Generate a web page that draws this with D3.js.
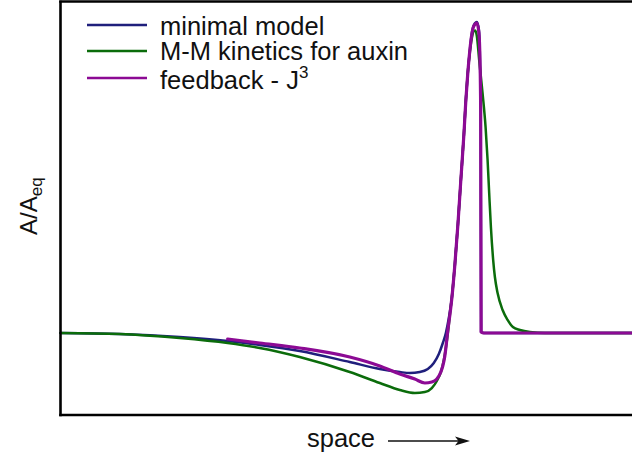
<!DOCTYPE html>
<html>
<head>
<meta charset="utf-8">
<script src="https://cdn.jsdelivr.net/npm/d3@7"></script>
<style>
  html, body { margin: 0; padding: 0; background: #fff; }
  svg { display: block; font-family: "Liberation Sans", Arial, Helvetica, sans-serif; }
</style>
</head>
<body>
<svg id="chart" width="632" height="459"></svg>
<script>
// ---- data (space in arbitrary units 0..100, A/Aeq) ----
const seriesNames = ["minimal model", "M-M kinetics for auxin", "feedback - J"];

const minimalX = [0, 10.33, 20.84, 29.25, 34.85, 41.86, 50.61, 55.87, 59.37, 61.12, 62.87, 64.27, 65.32, 66.20, 66.90, 67.43, 67.95, 68.48, 69.00, 69.53, 70.05, 70.58, 70.93, 71.28, 71.63, 71.98, 72.33, 72.86, 73.21, 73.40, 73.52, 73.60, 74.08, 100];
const minimalY = [1.000, 0.988, 0.951, 0.902, 0.854, 0.780, 0.646, 0.561, 0.524, 0.512, 0.524, 0.561, 0.634, 0.744, 0.878, 1.000, 1.183, 1.427, 1.829, 2.317, 2.866, 3.415, 3.841, 4.183, 4.451, 4.659, 4.756, 4.793, 4.700, 4.329, 3.720, 1.012, 1.000, 1.000];

const mmX = [0, 10.33, 20.84, 29.25, 34.85, 41.86, 50.61, 55.87, 59.37, 62.00, 63.75, 64.97, 65.85, 66.55, 67.08, 67.43, 67.78, 68.13, 68.48, 69.00, 69.53, 70.05, 70.58, 70.93, 71.28, 71.63, 71.98, 72.33, 72.59, 72.85, 73.26, 73.85, 74.38, 74.73, 75.01, 75.31, 75.71, 76.01, 76.48, 77.36, 78.23, 79.16, 80.39, 82.14, 84.76, 100];
const mmY = [1.000, 0.988, 0.939, 0.878, 0.817, 0.707, 0.524, 0.390, 0.305, 0.268, 0.280, 0.329, 0.415, 0.524, 0.671, 0.817, 1.000, 1.220, 1.439, 1.829, 2.317, 2.866, 3.415, 3.841, 4.183, 4.427, 4.598, 4.683, 4.689, 4.622, 4.329, 3.927, 3.512, 3.110, 2.707, 2.293, 1.890, 1.683, 1.488, 1.280, 1.159, 1.073, 1.037, 1.012, 1.000, 1.000];

const feedbackX = [29.25, 34.85, 41.86, 50.61, 55.87, 59.37, 62.00, 63.75, 64.97, 65.85, 66.55, 66.90, 67.25, 67.78, 68.13, 68.48, 69.00, 69.53, 70.05, 70.58, 70.93, 71.28, 71.63, 71.98, 72.33, 72.86, 73.21, 73.40, 73.52, 73.60, 74.08, 100];
const feedbackY = [0.927, 0.878, 0.817, 0.707, 0.598, 0.500, 0.439, 0.390, 0.402, 0.439, 0.524, 0.598, 0.720, 1.037, 1.220, 1.427, 1.829, 2.317, 2.866, 3.415, 3.841, 4.183, 4.451, 4.646, 4.744, 4.780, 4.660, 4.329, 3.720, 1.012, 1.000, 1.000];

const xDomain = [0, 100];
const yDomain = [0, 5.037];
const colors = ["#1f1f7c", "#0b6c0b", "#8c0a94"];
const widths = [2.5, 2.5, 3.2];

// ---- layout ----
const svg = d3.select("#chart");
const padL = 60.5, padR = 640, padT = 2, padB = 415;

const x = d3.scaleLinear().domain(xDomain).range([padL, 632]);
const y = d3.scaleLinear().domain(yDomain).range([padB, padT]);

const line = d3.line()
  .x(d => x(d[0]))
  .y(d => y(d[1]))
  .curve(d3.curveMonotoneX);

const series = [
  { xs: minimalX, ys: minimalY },
  { xs: mmX, ys: mmY },
  { xs: feedbackX, ys: feedbackY }
];

const plot = svg.append("g");
series.forEach((s, i) => {
  plot.append("path")
    .datum(s.xs.map((v, j) => [v, s.ys[j]]))
    .attr("d", line)
    .attr("fill", "none")
    .attr("stroke", colors[i])
    .attr("stroke-width", widths[i])
    .attr("stroke-linejoin", "round")
    .attr("stroke-linecap", "round");
});

// frame (axes without ticks)
const xAxis = d3.axisBottom(x).tickValues([]).tickSizeOuter(0);
const yAxis = d3.axisLeft(y).tickValues([]).tickSizeOuter(0);
const gx = svg.append("g").attr("transform", `translate(0,${padB})`).call(xAxis);
const gy = svg.append("g").attr("transform", `translate(${padL},0)`).call(yAxis);
[gx, gy].forEach(g => g.select(".domain").attr("stroke", "#000").attr("stroke-width", 2.6));
gy.select(".domain").attr("d", `M0,${padB + 1.3}V${padT - 1.3}`);
gx.select(".domain").attr("d", `M${padL - 1.3},0H${padR}`);
svg.append("line")
  .attr("x1", padL - 1.3).attr("x2", padR)
  .attr("y1", padT - 0.5).attr("y2", padT - 0.5)
  .attr("stroke", "#000").attr("stroke-width", 2.6);

// legend
const legendY = [25, 51, 78];
const legendBase = [35, 60, 89];
const lg = svg.append("g");
seriesNames.forEach((name, i) => {
  lg.append("line")
    .attr("x1", 87).attr("x2", 147)
    .attr("y1", legendY[i]).attr("y2", legendY[i])
    .attr("stroke", colors[i]).attr("stroke-width", 2.6);
  const t = lg.append("text")
    .attr("x", 160).attr("y", legendBase[i])
    .attr("font-size", 25.5).attr("fill", "#111")
    .text(name);
  if (i === 2) {
    t.append("tspan").attr("dy", -11).attr("font-size", 17).text("3");
  }
});

// y label
const yl = svg.append("text")
  .attr("transform", "translate(37,235) rotate(-90)")
  .attr("font-size", 24).attr("fill", "#111");
yl.append("tspan").text("A/A");
yl.append("tspan").attr("dy", 5).attr("font-size", 17).text("eq");

// x label with arrow
svg.append("text")
  .attr("x", 307).attr("y", 447)
  .attr("font-size", 25.5).attr("fill", "#111")
  .text("space");
svg.append("line")
  .attr("x1", 388).attr("x2", 462)
  .attr("y1", 441).attr("y2", 441)
  .attr("stroke", "#111").attr("stroke-width", 1.4);
svg.append("path")
  .attr("d", "M470,441 L455,436.5 L458.5,441 L455,445.5 Z")
  .attr("fill", "#111");
</script>
</body>
</html>
